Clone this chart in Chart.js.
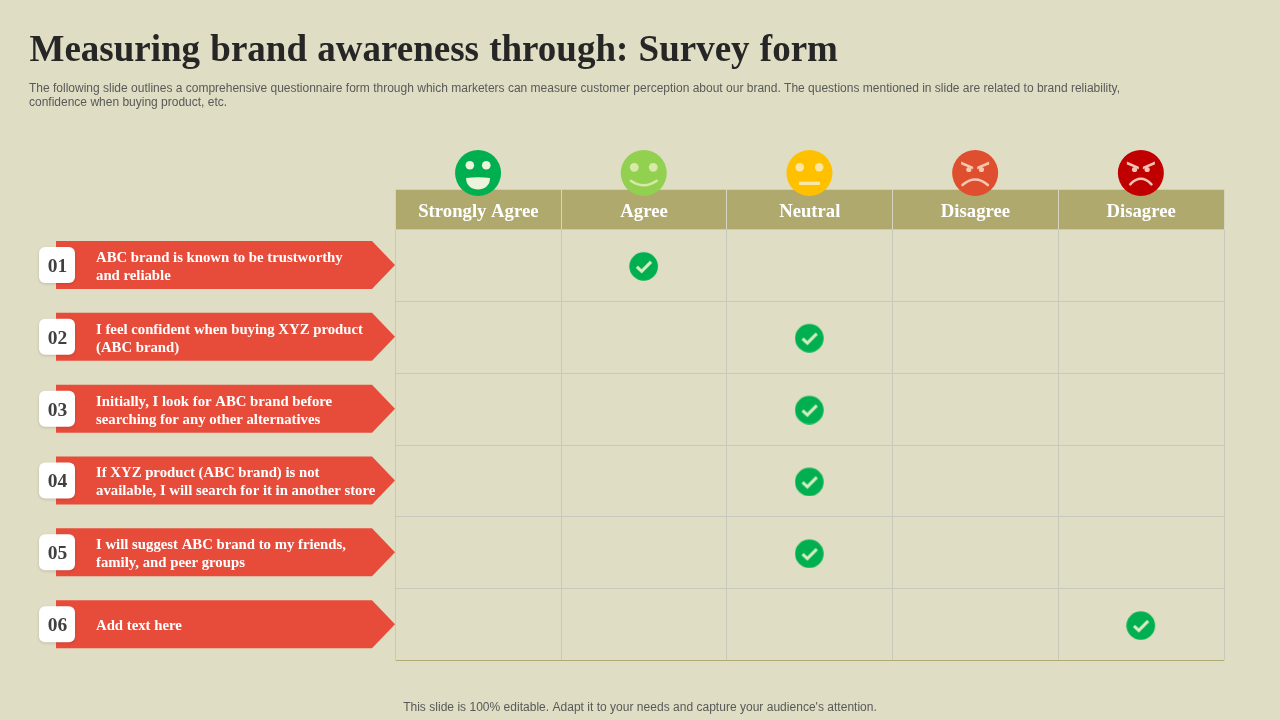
<!DOCTYPE html>
<html><head><meta charset="utf-8">
<style>html,body{margin:0;padding:0;background:#dfddc3}canvas{display:block}</style>
<script src="https://cdn.jsdelivr.net/npm/chart.js@4"></script></head>
<body><canvas id="c" width="1280" height="720"></canvas>
<script>
const titleText = "Measuring brand awareness through: Survey form";
const subtitleLines = [
  "The following slide outlines a comprehensive questionnaire form through which marketers can measure customer perception about our brand. The questions mentioned in slide are related to brand reliability,",
  "confidence when buying product, etc."
];
const footerText = "This slide is 100% editable. Adapt it to your needs and capture your audience's attention.";
const answerLabels = ["Strongly Agree", "Agree", "Neutral", "Disagree", "Disagree"];
const faceKinds = ["grin", "smile", "flat", "angry", "fury"];
const faceColors = ["#00b050", "#92d050", "#ffc000", "#df4e2e", "#c00000"];
const rowNumbers = ["01", "02", "03", "04", "05", "06"];
const statements = [
  ["ABC brand is known to be trustworthy", "and reliable"],
  ["I feel confident when buying XYZ product", "(ABC brand)"],
  ["Initially, I look for ABC brand before", "searching for any other alternatives"],
  ["If XYZ product (ABC brand) is not", "available, I will search for it in another store"],
  ["I will suggest ABC brand to my friends,", "family, and peer groups"],
  ["Add text here"]
];
const chosenAnswer = [1, 2, 2, 2, 2, 4];

const BG = "#dfddc3", BAND = "#afa96d", RED = "#e74c3b", GRID = "#c8c8bc", OLIVE = "#aeaa72";

function makeCheck() {
  const cv = document.createElement("canvas"); cv.width = 30; cv.height = 31;
  const g = cv.getContext("2d");
  g.fillStyle = "#00b050"; g.beginPath(); g.arc(14.6, 16.5, 14.3, 0, Math.PI * 2); g.fill();
  g.strokeStyle = "#d8ecc4"; g.lineWidth = 3; g.beginPath();
  g.moveTo(7.8, 16.9); g.lineTo(12.6, 21.3); g.lineTo(22, 11.9); g.stroke();
  return cv;
}

function drawFace(g, x, y, kind, color) {
  g.save(); g.translate(x, y);
  g.fillStyle = color; g.beginPath(); g.arc(0, 0, 23, 0, Math.PI * 2); g.fill();
  if (kind === "grin") {
    g.fillStyle = "#eef3dc";
    [-8.2, 8.2].forEach(e => { g.beginPath(); g.arc(e, -7.7, 4.3, 0, Math.PI * 2); g.fill(); });
    g.beginPath(); g.moveTo(-12, 5); g.quadraticCurveTo(0, 3.4, 12, 5);
    g.bezierCurveTo(12, 13, 6, 16.4, 0, 16.4); g.bezierCurveTo(-6, 16.4, -12, 13, -12, 5); g.fill();
  } else if (kind === "smile") {
    g.fillStyle = "#d8e8a8"; g.strokeStyle = "#d8e8a8"; g.lineWidth = 2.4; g.lineCap = "round";
    [-9.5, 9.5].forEach(e => { g.beginPath(); g.arc(e, -5.7, 4.4, 0, Math.PI * 2); g.fill(); });
    g.beginPath(); g.moveTo(-13, 7.7); g.quadraticCurveTo(0, 16.7, 13, 7.7); g.stroke();
  } else if (kind === "flat") {
    g.fillStyle = "#fbe6a6";
    [-9.7, 9.7].forEach(e => { g.beginPath(); g.arc(e, -5.7, 4.3, 0, Math.PI * 2); g.fill(); });
    g.fillRect(-10.5, 8.7, 21, 3.3);
  } else {
    const fc = kind === "angry" ? "#f2c8ae" : "#f0c4b4";
    const w = kind === "angry" ? 12.7 : 10.6;
    const top = kind === "angry" ? 12 : 11.3;
    g.fillStyle = fc; g.strokeStyle = fc;
    [-1, 1].forEach(s => {
      g.beginPath(); g.moveTo(s * 14, -11.5); g.lineTo(s * 2, -6.2); g.lineTo(s * 2, -3.8); g.lineTo(s * 14, -8.4); g.closePath(); g.fill();
      g.beginPath(); g.arc(s * 6.3, -3.5, 2.6, 0, Math.PI * 2); g.fill();
    });
    g.lineWidth = 2.6; g.lineCap = "round"; g.beginPath();
    g.moveTo(-w, top); g.quadraticCurveTo(0, top - 11, w, top); g.stroke();
  }
  g.restore();
}

const slidePlugin = {
  id: "slide",
  beforeDraw(chart) {
    const g = chart.ctx, xs = chart.scales.x, ys = chart.scales.y;
    g.save();
    g.fillStyle = BG; g.fillRect(0, 0, chart.width, chart.height);
    g.fillStyle = BAND; g.fillRect(xs.left, xs.top, xs.right - xs.left, xs.bottom - xs.top);
    g.strokeStyle = "#cfcfc0"; g.lineWidth = 1; g.beginPath();
    g.moveTo(xs.left, xs.top); g.lineTo(xs.right, xs.top); g.stroke();
    g.textAlign = "left"; g.textBaseline = "alphabetic";
    g.fillStyle = "#262626"; g.font = "bold 37px 'Liberation Serif'"; g.wordSpacing = "1px";
    g.fillText(titleText, 29.5, 60.5);
    g.wordSpacing = "0px";
    g.fillStyle = "#595959"; g.font = "12px 'Liberation Sans'";
    subtitleLines.forEach((t, i) => g.fillText(t, 29, 92 + i * 14));
    g.textAlign = "center";
    g.letterSpacing = "0.02px";
    g.fillText(footerText, 640, 711);
    g.letterSpacing = "0px";
    rowNumbers.forEach((n, i) => {
      const cy = ys.getPixelForValue(i), tip = xs.left - 0.5, ay = cy - 0.4;
      g.fillStyle = RED; g.beginPath();
      g.moveTo(56, ay - 24); g.lineTo(tip - 23, ay - 24); g.lineTo(tip, ay);
      g.lineTo(tip - 23, ay + 24); g.lineTo(56, ay + 24); g.closePath(); g.fill();
      g.save();
      g.shadowColor = "rgba(0,0,0,0.15)"; g.shadowBlur = 3; g.shadowOffsetY = 1;
      g.fillStyle = "#ffffff"; g.beginPath(); g.roundRect(39, ay - 18, 36, 36, 6); g.fill();
      g.restore();
      g.fillStyle = "#404040"; g.font = "bold 19.5px 'Liberation Serif'"; g.textAlign = "center"; g.textBaseline = "middle";
      g.fillText(n, 57.5, cy + 1.4);
      g.fillStyle = "#ffffff"; g.font = "bold 14.75px 'Liberation Serif'"; g.textAlign = "left";
      const lines = statements[i];
      lines.forEach((t, k) => g.fillText(t, 96, cy + 1.7 + (k - (lines.length - 1) / 2) * 18));
    });
    g.restore();
  },
  afterDatasetsDraw(chart) {
    const g = chart.ctx, xs = chart.scales.x;
    faceKinds.forEach((k, i) => drawFace(g, xs.getPixelForValue(i) - 0.3, 173, k, faceColors[i]));
  }
};

new Chart(document.getElementById("c"), {
  type: "scatter",
  data: {
    datasets: [{
      label: "Response",
      parsing: false,
      data: chosenAnswer.map((c, i) => ({ x: c, y: i })),
      pointStyle: makeCheck(),
      pointRadius: 15,
      pointHoverRadius: 15
    }]
  },
  plugins: [slidePlugin],
  options: {
    responsive: false,
    animation: false,
    events: [],
    layout: { padding: { left: 39.5, right: 56, top: 189.5, bottom: 59.5 } },
    plugins: { legend: { display: false }, tooltip: { enabled: false }, title: { display: false } },
    scales: {
      x: {
        type: "category", position: "top", labels: answerLabels, offset: true,
        afterFit(s) { s.height = 40; s.paddingLeft = 0; s.paddingRight = 0; },
        border: { display: false },
        grid: { offset: true, drawOnChartArea: true, drawTicks: true, tickLength: 40, color: GRID, tickColor: "#d6d5c2", lineWidth: 1 },
        ticks: { autoSkip: false, maxRotation: 0, color: "#ffffff", padding: -34,
                 font: { family: "'Liberation Serif'", weight: "bold", size: 18.7 } }
      },
      y: {
        type: "category", position: "left", labels: rowNumbers, offset: true,
        afterFit(s) { s.width = 356; s.paddingTop = 0; s.paddingBottom = 0; },
        border: { display: false },
        grid: { offset: true, drawTicks: false,
                color: c => c.type === "tick" ? GRID : OLIVE, lineWidth: 1 },
        ticks: { display: false }
      }
    }
  }
});
</script></body></html>
